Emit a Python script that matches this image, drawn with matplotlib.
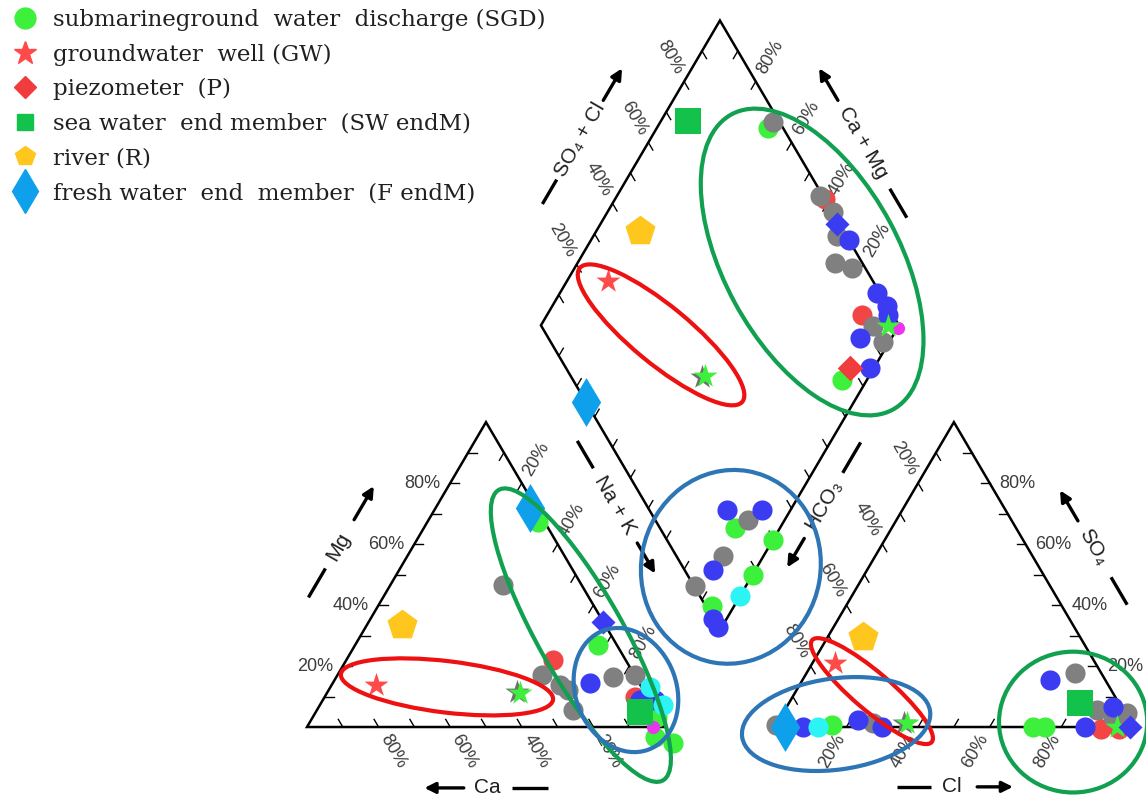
import numpy as np
import matplotlib.pyplot as plt
from matplotlib.patches import Ellipse, Polygon
from matplotlib.lines import Line2D

# ---- diagram layout (triangle side = 1 unit) ----
GAP = 0.307          # gap between the two triangles
X0 = 1 + GAP         # left corner of the anion triangle
YB = 0.275           # height of the bottom corner of the diamond
H = np.sqrt(3) / 2

# ---- data ----
# cation triangle: (Mg %, Na+K %)
sgd_cat = [(67.3, 30.9), (26.9, 67.8), (3.3, 96.2), (-3.3, 98.8), (-5.2, 104.8)]
grey_cat = [(46.6, 31.4), (17.1, 57.1), (13.8, 63.8), (12.1, 66.8), (5.6, 71.5), (16.4, 77.3), (17.1, 83.1)]
blue_cat = [(14.4, 71.9), (8.9, 88.6), (8.9, 92.8)]
red_cat = [(22.0, 57.7), (9.8, 86.7)]
cyan_cat = [(13.1, 89.2), (7.2, 95.8)]
mag_cat = [(0.0, 96.6)]
gw_cat = [(13.8, 12.4)]
gstar_cat = [(11.2, 53.9)]
greystar_cat = [(11.5, 53.0)]
piezo_cat = []
bdiam_cat = [(34.4, 65.5)]
sw_cat = [(4.9, 90.5)]
river_cat = [(33.5, 9.8)]
fresh_cat = [(71.9, 26.4)]

# anion triangle: (SO4 %, Cl %)
sgd_an = [(0.7, 15.6), (0.0, 72.1), (0.0, 75.4)]
grey_an = [(0.7, 0.0), (1.3, 26.7), (17.7, 74.9), (5.6, 87.1), (3.3, 92.8), (4.6, 96.0)]
blue_an = [(0.0, 7.8), (2.3, 22.1), (0.0, 29.9), (15.4, 69.1), (0.0, 86.6), (6.6, 91.1)]
red_an = [(-0.8, 91.6), (-0.5, 96.4)]
cyan_an = [(0.0, 12.0)]
mag_an = []
gw_an = [(21.0, 6.3)]
gstar_an = [(1.3, 36.2), (0.0, 95.5)]
greystar_an = [(1.3, 35.5)]
piezo_an = []
bdiam_an = [(0.0, 99.2)]
sw_an = [(7.9, 81.3)]
river_an = [(29.5, 9.8)]
fresh_an = [(0.0, 2.8)]

# diamond: (Ca+Mg %, SO4+Cl %)
sgd_dia = [(68.9, 95.7), (6.9, 75.1), (12.5, 20.9), (0.0, 29.5), (0.0, 18.2), (6.2, 1.7)]
grey_dia = [(68.6, 98.2), (43.2, 99.1), (37.1, 100.0), (31.9, 97.3), (28.1, 92.3), (22.5, 96.2),
            (7.1, 92.6), (1.8, 92.9), (10.2, 25.8), (11.3, 13.0), (14.2, 0.2)]
blue_dia = [(28.0, 100.0), (11.4, 99.1), (6.6, 99.9), (4.7, 98.6), (8.8, 87.0), (1.0, 84.9),
            (17.7, 21.6), (7.9, 31.4), (11.8, 7.9), (3.6, 0.0), (1.0, 0.0)]
red_dia = [(41.4, 100.0), (12.0, 91.3)]
cyan_dia = [(0.0, 11.3)]
mag_dia = [(0.0, 99.2)]
gw_dia = [(88.5, 25.9)]
gstar_dia = [(45.8, 37.5), (2.9, 96.8)]
greystar_dia = [(46.5, 36.5)]
piezo_dia = [(6.6, 79.3)]
bdiam_dia = [(34.0, 99.4)]
sw_dia = [(92.4, 74.5)]
river_dia = [(87.9, 43.2)]
fresh_dia = [(74.9, 0.0)]

legend_labels = ['submarineground  water  discharge (SGD)', 'groundwater  well (GW)',
                 'piezometer  (P)', 'sea water  end member  (SW endM)', 'river (R)',
                 'fresh water  end  member  (F endM)']


def cation_xy(pts):
    p = np.array(pts, dtype=float).reshape(-1, 2) / 100
    return (p[:, 1] + p[:, 0] / 2), p[:, 0] * H


def anion_xy(pts):
    p = np.array(pts, dtype=float).reshape(-1, 2) / 100
    return X0 + p[:, 1] + p[:, 0] / 2, p[:, 0] * H


def diamond_xy(pts):
    p = np.array(pts, dtype=float).reshape(-1, 2) / 100
    return 1 + GAP / 2 + 0.5 * (p[:, 1] - p[:, 0]), YB + H * (p[:, 0] + p[:, 1])


fig = plt.figure(figsize=(11.46, 7.99), dpi=100)
ax = fig.add_axes([0, 0, 1, 1])
ax.set_xlim(-0.8575, 2.3436)
ax.set_ylim(-0.2045, 2.0653)
ax.axis('off')

sans = ['Liberation Sans', 'DejaVu Sans']
lab_col = '#3c3c3c'

# ---- frames ----
B = np.array([1 + GAP / 2, YB])
u1 = np.array([-0.5, H])
u2 = np.array([0.5, H])
shapes = [
    [(0, 0), (1, 0), (0.5, H)],
    [(X0, 0), (X0 + 1, 0), (X0 + 0.5, H)],
    [tuple(B), tuple(B + u2), tuple(B + u1 + u2), tuple(B + u1)],
]
for s in shapes:
    ax.add_patch(Polygon(s, closed=True, fill=False, ec='black', lw=1.8, zorder=2, joinstyle='miter'))

# ---- ticks and tick labels ----
TL = 0.025
D = 0.08


def tick(p, inward, outward=None, rot=0, v=None, dist=D):
    p = np.asarray(p, dtype=float)
    q = p + TL * np.asarray(inward)
    ax.plot([p[0], q[0]], [p[1], q[1]], color='black', lw=1.0, zorder=2)
    if outward is not None and v % 20 == 0:
        t = p + dist * np.asarray(outward)
        ax.text(t[0], t[1], f'{v}%', rotation=rot, ha='center', va='center',
                fontsize=13, color=lab_col, family=sans, rotation_mode='anchor')


for v in range(10, 100, 10):
    f = v / 100
    # cation triangle
    tick((1 - f, 0), (-0.5, H), (0.5, -H), -60, v)                       # Ca
    tick((f / 2, f * H), (1, 0), (-1, 0), 0, v, 0.078)                  # Mg
    tick((f + (1 - f) / 2, (1 - f) * H), (-0.5, -H), (0.5, H), 60, v)   # Na+K
    # anion triangle
    tick((X0 + f, 0), (0.5, H), (-0.5, -H), 60, v)                       # Cl
    tick((X0 + (1 - f) + f / 2, f * H), (-1, 0), (1, 0), 0, v, 0.078)   # SO4
    tick((X0 + (1 - f) / 2, (1 - f) * H), (0.5, -H), (-0.5, H), -60, v)  # HCO3
    # diamond
    tick(B + u1 + f * u2, -u1, u1, -60, v)    # SO4+Cl
    tick(B + u2 + f * u1, -u2, u2, 60, v)     # Ca+Mg
    tick(B + f * u1, u2)                      # lower left
    tick(B + f * u2, u1)                      # lower right

# ---- axis titles with dash and arrow ----
titles = [
    # text, centre, direction (deg), dash range, arrow range
    ('Mg', (0.0866, 0.511), 60, (-0.165, -0.07), (0.09, 0.20)),
    ('Ca', (0.503, -0.173), 0, (0.07, 0.17), (-0.065, -0.175)),
    ('Cl', (1.802, -0.170), 0, (-0.155, -0.06), (0.07, 0.17)),
    ('SO\u2084', (2.196, 0.512), -60, (0.10, 0.19), (-0.085, -0.185)),
    ('SO\u2084 + Cl', (0.7626, 1.6676), 60, (-0.21, -0.13), (0.13, 0.235)),
    ('Ca + Mg', (1.553, 1.659), -60, (0.15, 0.245), (-0.14, -0.245)),
    ('Na + K', (0.860, 0.631), -60, (-0.21, -0.12), (0.125, 0.225)),
    ('HCO\u2083', (1.444, 0.631), 60, (0.105, 0.205), (-0.11, -0.205)),
]
for txt, c, ang, dash, arr in titles:
    c = np.array(c)
    d = np.array([np.cos(np.radians(ang)), np.sin(np.radians(ang))])
    ax.text(c[0], c[1], txt, rotation=ang, ha='center', va='center', fontsize=15,
            color='#202020', family=sans, rotation_mode='anchor')
    p0, p1 = c + dash[0] * d, c + dash[1] * d
    ax.plot([p0[0], p1[0]], [p0[1], p1[1]], color='black', lw=2.4, solid_capstyle='butt')
    a0, a1 = c + arr[0] * d, c + arr[1] * d
    ax.annotate('', xy=a1, xytext=a0,
                arrowprops=dict(arrowstyle='-|>', lw=2.4, color='black', mutation_scale=16,
                                shrinkA=0, shrinkB=0))

# ---- samples ----
groups = [
    # cation pts, anion pts, diamond pts, marker, colour, size
    (sgd_cat, sgd_an, sgd_dia, 'o', '#3CF03C', 210),
    (red_cat, red_an, red_dia, 'o', '#F24646', 210),
    (grey_cat, grey_an, grey_dia, 'o', '#808080', 210),
    (blue_cat, blue_an, blue_dia, 'o', '#3B3BF2', 210),
    (cyan_cat, cyan_an, cyan_dia, 'o', '#2CF4F4', 210),
    (mag_cat, mag_an, mag_dia, 'o', '#EE33EE', 90),
    (greystar_cat, greystar_an, greystar_dia, '*', '#707070', 330),
    (gw_cat, gw_an, gw_dia, '*', '#FF4A4A', 330),
    (gstar_cat, gstar_an, gstar_dia, '*', '#3CF03C', 330),
    (piezo_cat, piezo_an, piezo_dia, 'D', '#F03C3C', 170),
    (bdiam_cat, bdiam_an, bdiam_dia, 'D', '#3B3BF2', 150),
    (sw_cat, sw_an, sw_dia, 's', '#12C24A', 330),
    (river_cat, river_an, river_dia, 'p', '#FFC71E', 520),
    (fresh_cat, fresh_an, fresh_dia, 'd', '#0FA0EB', 620),
]
for cat, an, dia, mk, col, sz in groups:
    for pts, fn in ((cat, cation_xy), (an, anion_xy), (dia, diamond_xy)):
        if len(pts) == 0:
            continue
        x, y = fn(pts)
        ax.scatter(x, y, marker=mk, s=sz, color=col, linewidths=0, zorder=3, clip_on=False)

# ---- hand drawn ellipses ----
ellipses = [
    ((0.989, 1.114), 0.592, 0.163, -40, '#EE1111'),
    ((1.411, 1.321), 0.952, 0.490, -62, '#10A050'),
    ((1.184, 0.455), 0.501, 0.552, -10, '#2E75B6'),
    ((0.391, 0.114), 0.597, 0.146, -7, '#EE1111'),
    ((0.765, 0.261), 0.944, 0.239, -61, '#10A050'),
    ((0.891, 0.105), 0.361, 0.282, -70, '#2E75B6'),
    ((1.578, 0.102), 0.442, 0.107, -41, '#EE1111'),
    ((1.478, 0.0085), 0.530, 0.259, 8, '#2E75B6'),
    ((2.140, 0.014), 0.414, 0.400, 0, '#10A050'),
]
for c, w, h, a, col in ellipses:
    ax.add_patch(Ellipse(c, w, h, angle=a, fill=False, ec=col, lw=3.0, zorder=5, clip_on=False))

# ---- legend ----
handles = [
    Line2D([], [], ls='', marker='o', ms=15, color='#3CF03C'),
    Line2D([], [], ls='', marker='*', ms=17, color='#FF4A4A'),
    Line2D([], [], ls='', marker='D', ms=11, color='#F03C3C'),
    Line2D([], [], ls='', marker='s', ms=12, color='#12C24A'),
    Line2D([], [], ls='', marker='p', ms=15, color='#FFC71E'),
    Line2D([], [], ls='', marker='d', ms=22, color='#0FA0EB'),
]
fig.legend(handles, legend_labels, loc='upper left', bbox_to_anchor=(0.012, 0.989),
           frameon=False, prop={'family': 'DejaVu Serif', 'size': 16.5}, handlelength=1.0,
           handletextpad=0.72, labelspacing=0.55, borderpad=0.0, borderaxespad=0.0,
           markerscale=1.0, labelcolor='#202020')

fig.savefig('out.png', dpi=100)
